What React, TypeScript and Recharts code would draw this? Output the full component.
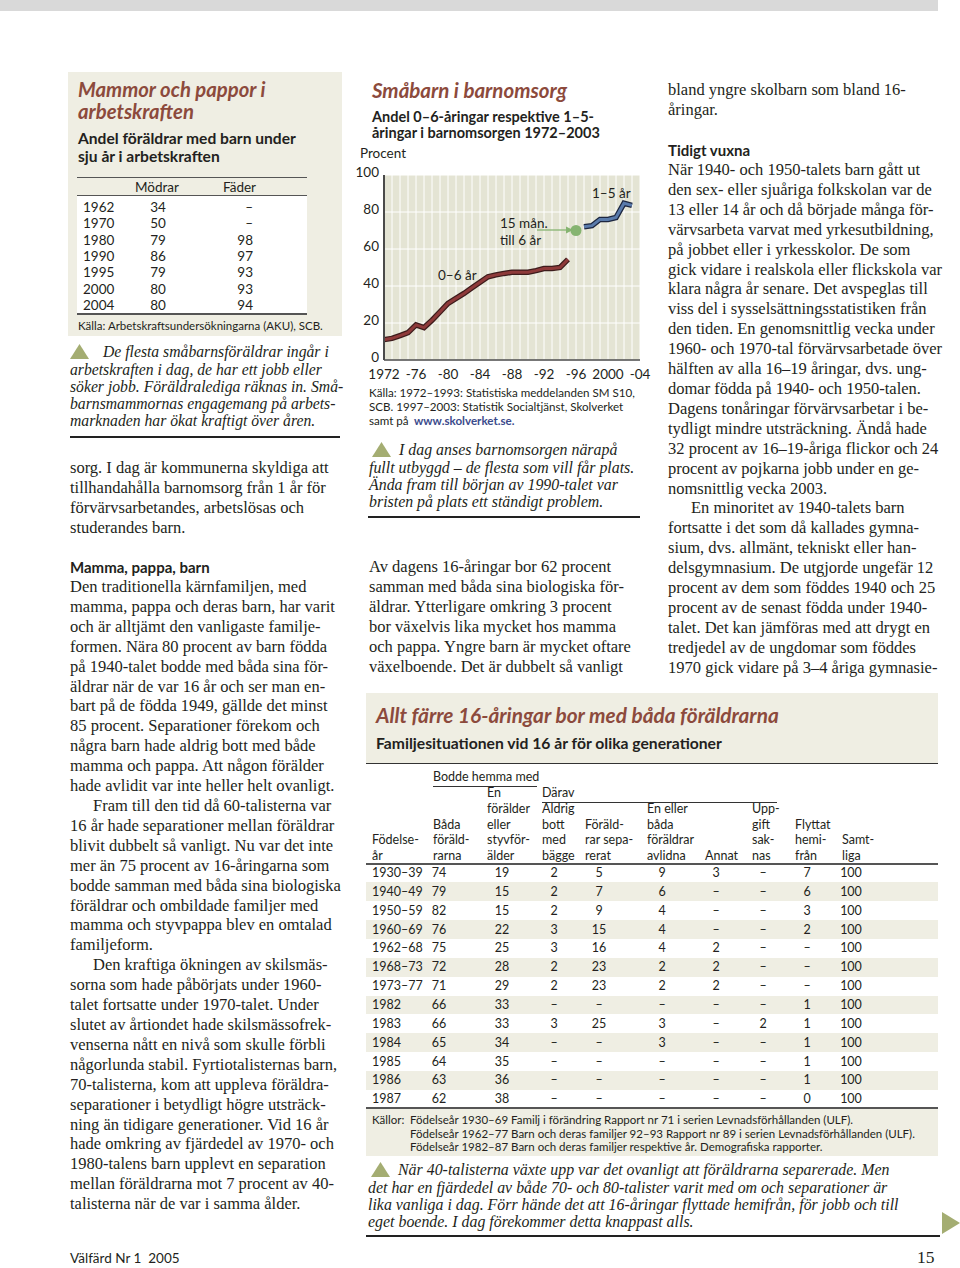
import React from 'react';
import { LineChart, Line, XAxis, YAxis, CartesianGrid } from 'recharts';

// Småbarn i barnomsorg – andel i procent
const YEARS = [1972, 1973, 1974, 1975, 1976, 1977, 1978, 1979, 1980, 1981, 1982, 1983, 1984, 1985, 1986, 1987, 1988, 1989, 1990, 1991, 1992, 1993, 1994, 1995, 1996, 1997, 1998, 1999, 2000, 2001, 2002, 2003];
const AGE_0_6 = [11, 11.7, 13.2, 14.8, 19, 17.5, 21.5, 26, 30.6, 33.3, 36, 39, 42, 45, 46, 46.8, 47.4, 47.4, 47.4, 48.3, 49.4, 49.5, 50, 54.4, null, null, null, null, null, null, null, null];
const AGE_15M_6 = [null, null, null, null, null, null, null, null, null, null, null, null, null, null, null, null, null, null, null, null, null, null, null, null, 70, null, null, null, null, null, null, null];
const AGE_1_5 = [null, null, null, null, null, null, null, null, null, null, null, null, null, null, null, null, null, null, null, null, null, null, null, null, null, 72, 72.6, 76, 76, 77, 84.7, 83.6];
const X_TICKS = [1972, 1973, 1974, 1975, 1976, 1977, 1978, 1979, 1980, 1981, 1982, 1983, 1984, 1985, 1986, 1987, 1988, 1989, 1990, 1991, 1992, 1993, 1994, 1995, 1996, 1997, 1998, 1999, 2000, 2001, 2002, 2003, 2004];
const X_LABELS: Record<number, string> = { 1972: '1972', 1976: '-76', 1980: '-80', 1984: '-84', 1988: '-88', 1992: '-92', 1996: '-96', 2000: '2000', 2004: '-04' };
const Y_TICKS = [0, 20, 40, 60, 80, 100];

// Mammor och pappor i arbetskraften
const AKU_YEARS = ['1962', '1970', '1980', '1990', '1995', '2000', '2004'];
const MODRAR = ['34', '50', '79', '86', '79', '80', '80'];
const FADER = ['–', '–', '98', '97', '93', '93', '94'];

// Familjesituationen vid 16 år
const FAM_ROWS = [
  ['1930–39', '74', '19', '2', '5', '9', '3', '–', '7', '100'],
  ['1940–49', '79', '15', '2', '7', '6', '–', '–', '6', '100'],
  ['1950–59', '82', '15', '2', '9', '4', '–', '–', '3', '100'],
  ['1960–69', '76', '22', '3', '15', '4', '–', '–', '2', '100'],
  ['1962–68', '75', '25', '3', '16', '4', '2', '–', '–', '100'],
  ['1968–73', '72', '28', '2', '23', '2', '2', '–', '–', '100'],
  ['1973–77', '71', '29', '2', '23', '2', '2', '–', '–', '100'],
  ['1982', '66', '33', '–', '–', '–', '–', '–', '1', '100'],
  ['1983', '66', '33', '3', '25', '3', '–', '2', '1', '100'],
  ['1984', '65', '34', '–', '–', '3', '–', '–', '1', '100'],
  ['1985', '64', '35', '–', '–', '–', '–', '–', '1', '100'],
  ['1986', '63', '36', '–', '–', '–', '–', '–', '1', '100'],
  ['1987', '62', '38', '–', '–', '–', '–', '–', '0', '100'],
];

const SANS = 'Lato, "Open Sans", "Noto Sans", sans-serif';
const SERIF = '"Liberation Serif", "DejaVu Serif", serif';
const INK = '#231f20';
const MAROON = '#8c4a3c';
const BEIGE = '#efeee3';
const OLIVE = '#a4ad72';

const chartData = YEARS.map((year, i) => ({
  year,
  a: AGE_0_6[i],
  m: AGE_15M_6[i],
  b: AGE_1_5[i],
}));

type LinesProps = {
  x: number;
  y: number;
  lines: string[];
  size?: number;
  lh?: number;
  font?: string;
  style?: React.CSSProperties;
  indent?: number[];
  indentPx?: number;
};

const Lines = ({ x, y, lines, size = 16.5, lh = 19.9, font = SERIF, style = {}, indent = [], indentPx = 23 }: LinesProps) => (
  <div
    style={{
      position: 'absolute',
      left: x,
      top: y - lh / 2,
      fontFamily: font,
      fontSize: size,
      lineHeight: lh + 'px',
      whiteSpace: 'pre',
      color: INK,
      ...style,
    }}
  >
    {lines.map((t, i) => (
      <div key={i} style={{ paddingLeft: indent.includes(i) ? indentPx : 0 }}>{t}</div>
    ))}
  </div>
);

const Box = ({ x, y, w, h, bg }: { x: number; y: number; w: number; h: number; bg: string }) => (
  <div style={{ position: 'absolute', left: x, top: y, width: w, height: h, background: bg }} />
);

const Tri = ({ x, y, w = 19, h = 15, right = false }: { x: number; y: number; w?: number; h?: number; right?: boolean }) => (
  <svg style={{ position: 'absolute', left: x, top: y }} width={w} height={h}>
    {right ? (
      <polygon points={`0,0 ${w},${h / 2} 0,${h}`} fill={OLIVE} />
    ) : (
      <polygon points={`0,${h} ${w / 2},0 ${w},${h}`} fill={OLIVE} />
    )}
  </svg>
);

const T = ({ x, y, text, size = 13, font = SANS, style = {} }: { x: number; y: number; text: string; size?: number; font?: string; style?: React.CSSProperties }) => (
  <div
    style={{
      position: 'absolute',
      left: x,
      top: y - 10,
      height: 20,
      lineHeight: '20px',
      fontFamily: font,
      fontSize: size,
      whiteSpace: 'pre',
      color: INK,
      ...style,
    }}
  >
    {text}
  </div>
);

const xTick = (v: number) => X_LABELS[v] ?? '';

// y tick labels sit a little above their gridline, as in the print
const YTick = ({ x, y, payload }: any) => (
  <text x={x} y={y - 3} textAnchor="end" dominantBaseline="central" fill={INK} fontSize={13.5} fontFamily={SANS}>
    {payload.value}
  </text>
);

const FAM_COLS = [
  { hx: 372, vx: 372, align: 'left', head: ['Födelse-', 'år'] },
  { hx: 433, vx: 439, align: 'center', head: ['Båda', 'föräld-', 'rarna'] },
  { hx: 487, vx: 502, align: 'center', head: ['En', 'förälder', 'eller', 'styvför-', 'älder'] },
  { hx: 542, vx: 554, align: 'center', head: ['Aldrig', 'bott', 'med', 'bägge'] },
  { hx: 585, vx: 599, align: 'center', head: ['Föräld-', 'rar sepa-', 'rerat'] },
  { hx: 647, vx: 662, align: 'center', head: ['En eller', 'båda', 'föräldrar', 'avlidna'] },
  { hx: 705, vx: 716, align: 'center', head: ['Annat'] },
  { hx: 752, vx: 763, align: 'center', head: ['Upp-', 'gift', 'sak-', 'nas'] },
  { hx: 795, vx: 807, align: 'center', head: ['Flyttat', 'hemi-', 'från'] },
  { hx: 842, vx: 851, align: 'center', head: ['Samt-', 'liga'] },
];

export default function App() {
  const rowY = (i: number) => 873 + i * 18.85;
  return (
    <div style={{ position: 'absolute', left: 0, top: 0, width: 960, height: 1268, background: '#fff', overflow: 'hidden', color: INK }}>
      {/* top band */}
      <Box x={0} y={0} w={938} h={11} bg="#d9d9d9" />

      {/* ---------- left column ---------- */}
      <Box x={68} y={72} w={274} h={264} bg={BEIGE} />
      <Lines x={78} y={90} lh={21.5} size={20.3} font={SANS} lines={['Mammor och pappor i', 'arbetskraften']} style={{ color: MAROON, fontWeight: 700, fontStyle: 'italic' }} />
      <Lines x={78} y={139} lh={17.5} size={15.6} font={SANS} lines={['Andel föräldrar med barn under', 'sju år i arbetskraften']} style={{ fontWeight: 700 }} />
      <Box x={77} y={196} w={230} h={118} bg="#fff" />
      <Box x={77} y={177} w={230} h={1} bg="#555" />
      <Box x={77} y={195} w={230} h={1} bg="#555" />
      <Box x={77} y={313} w={230} h={2} bg="#555" />
      <T x={135} y={187} text="Mödrar" size={13.5} />
      <T x={223} y={187} text="Fäder" size={13.5} />
      {AKU_YEARS.map((yr, i) => (
        <React.Fragment key={yr}>
          <T x={83} y={207 + i * 16.3} text={yr} size={13.5} />
          <div style={{ position: 'absolute', left: 143, width: 30, top: 207 + i * 16.3 - 10, lineHeight: '20px', textAlign: 'center', fontFamily: SANS, fontSize: 13.5 }}>{MODRAR[i]}</div>
          <div style={{ position: 'absolute', left: 213, width: 40, top: 207 + i * 16.3 - 10, lineHeight: '20px', textAlign: 'right', fontFamily: SANS, fontSize: 13.5 }}>{FADER[i]}</div>
        </React.Fragment>
      ))}
      <T x={78} y={326} text="Källa: Arbetskraftsundersökningarna (AKU), SCB." size={11.5} />

      <Tri x={70} y={344} />
      <Lines
        x={70}
        y={352}
        lh={17.25}
        size={15.7}
        indent={[0]}
        indentPx={33}
        lines={['De flesta småbarnsföräldrar ingår i', 'arbetskraften i dag, de har ett jobb eller', 'söker jobb. Föräldralediga räknas in. Små-', 'barnsmammornas engagemang på arbets-', 'marknaden har ökat kraftigt över åren.']}
        style={{ fontStyle: 'italic' }}
      />
      <Box x={70} y={436} w={270} h={2} bg="#222" />

      <Lines x={70} y={468} lines={['sorg. I dag är kommunerna skyldiga att', 'tillhandahålla barnomsorg från 1 år för', 'förvärvsarbetandes, arbetslösas och', 'studerandes barn.']} />
      <T x={70} y={567} text="Mamma, pappa, barn" size={15} style={{ fontWeight: 700 }} />
      <Lines
        x={70}
        y={587}
        indent={[11, 19]}
        lines={[
          'Den traditionella kärnfamiljen, med',
          'mamma, pappa och deras barn, har varit',
          'och är alltjämt den vanligaste familje-',
          'formen. Nära 80 procent av barn födda',
          'på 1940-talet bodde med båda sina för-',
          'äldrar när de var 16 år och ser man en-',
          'bart på de födda 1949, gällde det minst',
          '85 procent. Separationer förekom och',
          'några barn hade aldrig bott med både',
          'mamma och pappa. Att någon förälder',
          'hade avlidit var inte heller helt ovanligt.',
          'Fram till den tid då 60-talisterna var',
          '16 år hade separationer mellan föräldrar',
          'blivit dubbelt så vanligt. Nu var det inte',
          'mer än 75 procent av 16-åringarna som',
          'bodde samman med båda sina biologiska',
          'föräldrar och ombildade familjer med',
          'mamma och styvpappa blev en omtalad',
          'familjeform.',
          'Den kraftiga ökningen av skilsmäs-',
          'sorna som hade påbörjats under 1960-',
          'talet fortsatte under 1970-talet. Under',
          'slutet av årtiondet hade skilsmässofrek-',
          'venserna nått en nivå som skulle förbli',
          'någorlunda stabil. Fyrtiotalisternas barn,',
          '70-talisterna, kom att uppleva föräldra-',
          'separationer i betydligt högre utsträck-',
          'ning än tidigare generationer. Vid 16 år',
          'hade omkring av fjärdedel av 1970- och',
          '1980-talens barn upplevt en separation',
          'mellan föräldrarna mot 7 procent av 40-',
          'talisterna när de var i samma ålder.',
        ]}
      />

      {/* ---------- middle column: chart ---------- */}
      <T x={372} y={90} text="Småbarn i barnomsorg" size={20.5} style={{ color: MAROON, fontWeight: 700, fontStyle: 'italic' }} />
      <Lines x={372} y={117} lh={16.5} size={14.5} font={SANS} lines={['Andel 0–6-åringar respektive 1–5-', 'åringar i barnomsorgen 1972–2003']} style={{ fontWeight: 700 }} />
      <T x={360} y={153} text="Procent" size={13.5} />

      <div style={{ position: 'absolute', left: 355, top: 160 }}>
        <LineChart width={300} height={230} data={chartData} margin={{ top: 15, right: 15, left: 0, bottom: 0 }}>
          <CartesianGrid fill="#e4e4d4" fillOpacity={1} stroke="#ffffff" strokeWidth={1} />
          <XAxis
            dataKey="year"
            type="number"
            domain={[1972, 2004]}
            ticks={X_TICKS}
            interval={0}
            tickFormatter={xTick}
            tickLine={false}
            tickSize={0}
            tickMargin={9}
            height={30}
            axisLine={{ stroke: '#4a4a4a', strokeWidth: 1.5 }}
            tick={{ fill: INK, fontSize: 13.5, fontFamily: SANS }}
          />
          <YAxis
            type="number"
            domain={[0, 100]}
            ticks={Y_TICKS}
            interval={0}
            width={29}
            tickLine={false}
            tickSize={0}
            tickMargin={5}
            axisLine={{ stroke: '#4a4a4a', strokeWidth: 2 }}
            tick={<YTick />}
          />
          <Line dataKey="a" stroke="#3d1c1c" strokeWidth={5.5} dot={false} isAnimationActive={false} connectNulls={false} />
          <Line dataKey="a" stroke="#8e3a3a" strokeWidth={3} dot={false} isAnimationActive={false} connectNulls={false} />
          <Line dataKey="b" stroke="#1d2740" strokeWidth={5.5} dot={false} isAnimationActive={false} connectNulls={false} />
          <Line dataKey="b" stroke="#5a7bab" strokeWidth={3} dot={false} isAnimationActive={false} connectNulls={false} />
          <Line dataKey="m" stroke="none" dot={{ r: 5.5, fill: '#86b471', stroke: 'none' }} isAnimationActive={false} />
        </LineChart>
      </div>
      {/* annotations */}
      <T x={438} y={275} text="0–6 år" size={13.5} />
      <T x={592} y={193} text="1–5 år" size={13.5} />
      <Lines x={500} y={223} lh={17} size={13.5} font={SANS} lines={['15 mån.', 'till 6 år']} />
      <svg style={{ position: 'absolute', left: 536, top: 225 }} width={40} height={10}>
        <line x1={1} y1={5} x2={32} y2={5} stroke="#86b471" strokeWidth={1.3} />
        <polygon points="30,1.5 37,5 30,8.5" fill="#86b471" />
      </svg>

      <Lines
        x={369}
        y={393}
        lh={14}
        size={11.6}
        font={SANS}
        lines={['Källa: 1972–1993: Statistiska meddelanden SM S10,', 'SCB. 1997–2003: Statistik Socialtjänst, Skolverket']}
      />
      <T x={369} y={421} size={11.6} text="samt på " />
      <T x={414} y={421} size={11.6} text="www.skolverket.se." style={{ fontWeight: 700, color: '#3b4b8c' }} />

      <Tri x={372} y={442} />
      <Lines
        x={369}
        y={450}
        lh={17.3}
        size={15.9}
        indent={[0]}
        indentPx={30}
        lines={['I dag anses barnomsorgen närapå', 'fullt utbyggd – de flesta som vill får plats.', 'Ända fram till början av 1990-talet var', 'bristen på plats ett ständigt problem.']}
        style={{ fontStyle: 'italic' }}
      />
      <Box x={368} y={516} w={272} h={2} bg="#222" />

      <Lines
        x={369}
        y={567}
        lines={[
          'Av dagens 16-åringar bor 62 procent',
          'samman med båda sina biologiska för-',
          'äldrar. Ytterligare omkring 3 procent',
          'bor växelvis lika mycket hos mamma',
          'och pappa. Yngre barn är mycket oftare',
          'växelboende. Det är dubbelt så vanligt',
        ]}
      />

      {/* ---------- right column ---------- */}
      <Lines x={668} y={90} lh={20} lines={['bland yngre skolbarn som bland 16-', 'åringar.']} />
      <T x={668} y={150} text="Tidigt vuxna" size={15} style={{ fontWeight: 700 }} />
      <Lines
        x={668}
        y={170}
        indent={[17]}
        lines={[
          'När 1940- och 1950-talets barn gått ut',
          'den sex- eller sjuåriga folkskolan var de',
          '13 eller 14 år och då började många för-',
          'värvsarbeta varvat med yrkesutbildning,',
          'på jobbet eller i yrkesskolor. De som',
          'gick vidare i realskola eller flickskola var',
          'klara några år senare. Det avspeglas till',
          'viss del i sysselsättningsstatistiken från',
          'den tiden. En genomsnittlig vecka under',
          '1960- och 1970-tal förvärvsarbetade över',
          'hälften av alla 16–19 åringar, dvs. ung-',
          'domar födda på 1940- och 1950-talen.',
          'Dagens tonåringar förvärvsarbetar i be-',
          'tydligt mindre utsträckning. Ändå hade',
          '32 procent av 16–19-åriga flickor och 24',
          'procent av pojkarna jobb under en ge-',
          'nomsnittlig vecka 2003.',
          'En minoritet av 1940-talets barn',
          'fortsatte i det som då kallades gymna-',
          'sium, dvs. allmänt, tekniskt eller han-',
          'delsgymnasium. De utgjorde ungefär 12',
          'procent av dem som föddes 1940 och 25',
          'procent av de senast födda under 1940-',
          'talet. Det kan jämföras med att drygt en',
          'tredjedel av de ungdomar som föddes',
          '1970 gick vidare på 3–4 åriga gymnasie-',
        ]}
      />

      {/* ---------- bottom table ---------- */}
      <Box x={366} y={693} w={572} h={463} bg={BEIGE} />
      <Box x={366} y={764} w={572} h={345} bg="#fff" />
      {FAM_ROWS.map((_, i) => (i % 2 === 1 ? <Box key={'sh' + i} x={366} y={rowY(i) - 9.4} w={572} h={18.85} bg={BEIGE} /> : null))}
      <T x={376} y={715} text="Allt färre 16-åringar bor med båda föräldrarna" size={20.8} style={{ color: MAROON, fontWeight: 700, fontStyle: 'italic' }} />
      <T x={376} y={743} text="Familjesituationen vid 16 år för olika generationer" size={15.7} style={{ fontWeight: 700 }} />
      <Box x={366} y={763} w={572} h={1} bg="#333" />
      <T x={433} y={777} text="Bodde hemma med" size={12.5} />
      <Box x={433} y={786} w={104} h={1} bg="#333" />
      <T x={542} y={793} text="Därav" size={12.5} />
      <Box x={542} y={802} w={235} h={1} bg="#333" />
      {FAM_COLS.map((c, ci) =>
        c.head.map((h, k) => (
          <T key={'h' + ci + '-' + k} x={c.hx} y={856 - 15.75 * (c.head.length - 1 - k)} text={h} size={12.5} />
        ))
      )}
      <Box x={366} y={863} w={572} h={2} bg="#555" />
      {FAM_ROWS.map((row, i) =>
        row.map((v, ci) => {
          const c = FAM_COLS[ci];
          return c.align === 'left' ? (
            <T key={'r' + i + '-' + ci} x={c.vx} y={rowY(i)} text={v} size={12.5} />
          ) : (
            <div
              key={'r' + i + '-' + ci}
              style={{ position: 'absolute', left: c.vx - 20, width: 40, top: rowY(i) - 10, lineHeight: '20px', textAlign: 'center', fontFamily: SANS, fontSize: 12.5 }}
            >
              {v}
            </div>
          );
        })
      )}
      <Box x={366} y={1107} w={572} h={2} bg="#555" />
      <T x={372} y={1120} text="Källor:" size={11.5} />
      <Lines
        x={410}
        y={1120}
        lh={13.5}
        size={11.5}
        font={SANS}
        lines={[
          'Födelseår 1930–69 Familj i förändring Rapport nr 71 i serien Levnadsförhållanden (ULF).',
          'Födelseår 1962–77 Barn och deras familjer 92–93 Rapport nr 89 i serien Levnadsförhållanden (ULF).',
          'Födelseår 1982–87 Barn och deras familjer respektive år. Demografiska rapporter.',
        ]}
      />

      <Tri x={371} y={1162} />
      <Lines
        x={368}
        y={1170}
        lh={17.3}
        size={15.9}
        indent={[0]}
        indentPx={30}
        lines={[
          'När 40-talisterna växte upp var det ovanligt att föräldrarna separerade. Men',
          'det har en fjärdedel av både 70- och 80-talister varit med om och separationer är',
          'lika vanliga i dag. Förr hände det att 16-åringar flyttade hemifrån, för jobb och till',
          'eget boende. I dag förekommer detta knappast alls.',
        ]}
        style={{ fontStyle: 'italic' }}
      />
      <Box x={366} y={1235} w={574} h={2} bg="#222" />
      <Tri x={942} y={1212} w={18} h={22} right />

      {/* footer */}
      <T x={70} y={1258} text="Välfärd Nr 1  2005" size={13.5} />
      <T x={917} y={1257} text="15" size={17.5} font={SERIF} />
    </div>
  );
}
